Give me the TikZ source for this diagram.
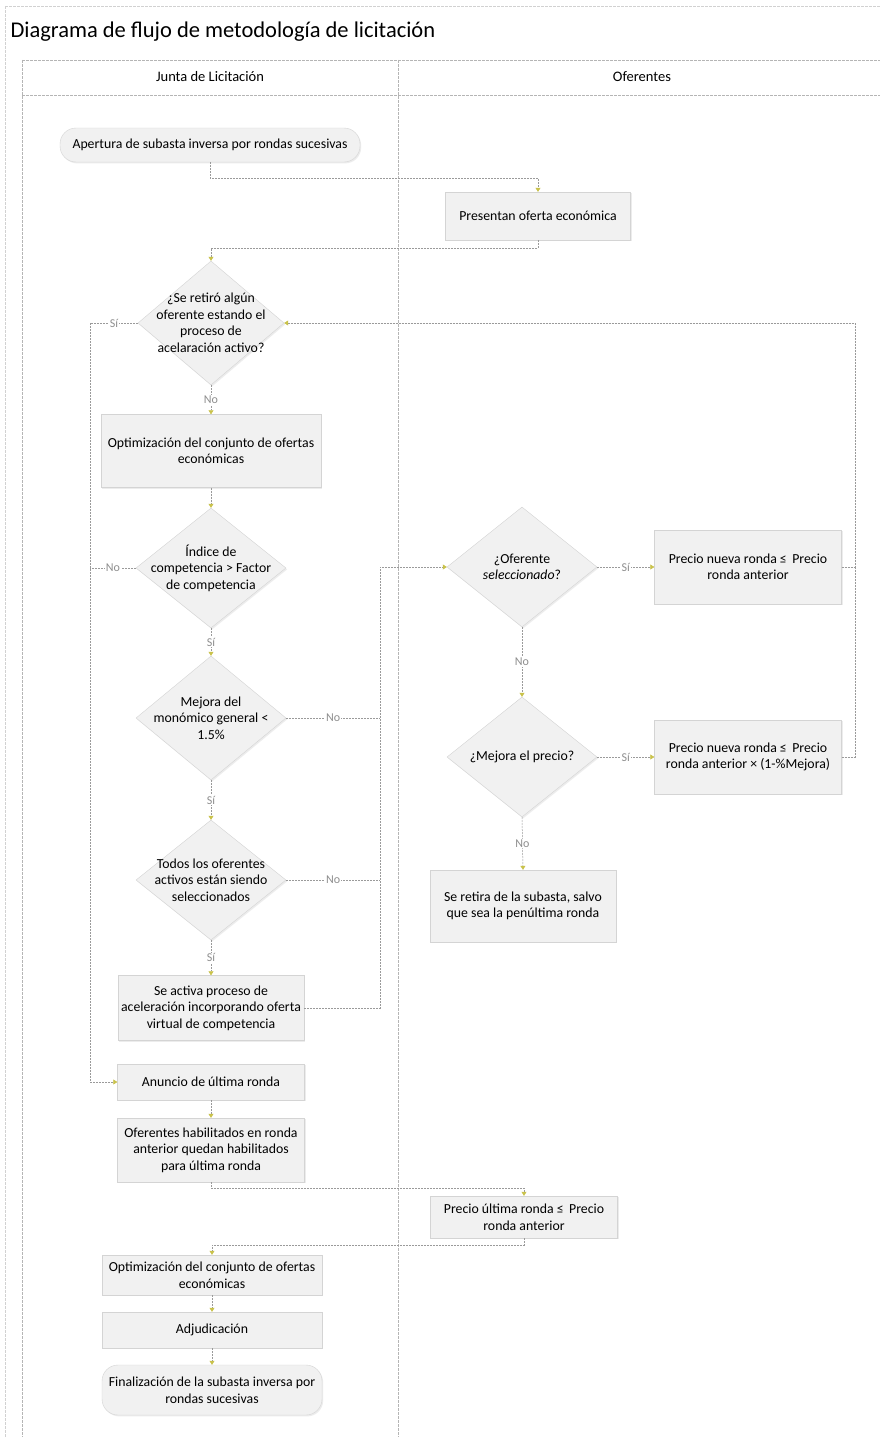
\documentclass[tikz,border=0pt]{standalone}
\usepackage{fontspec}
\setmainfont{Carlito}
\usetikzlibrary{shapes.geometric,arrows.meta,shadows}
\definecolor{nodefill}{HTML}{F1F1F1}
\definecolor{nodeline}{HTML}{D4D4D4}
\definecolor{connc}{HTML}{9A9A9A}
\definecolor{tipc}{HTML}{C9C24A}
\definecolor{labc}{HTML}{8E8E8E}
\definecolor{lanec}{HTML}{B5B5B5}
\begin{document}
\begin{tikzpicture}[x=1pt,y=-1pt,font=\fontsize{13.8}{16.5}\selectfont,
  shad/.style={drop shadow={shadow xshift=1.2pt,shadow yshift=-1.4pt,fill=black!14}},
  box/.style={rectangle,fill=nodefill,draw=nodeline,line width=0.4pt,align=center,inner sep=1pt,shad},
  term/.style={box,rounded corners=16pt},
  dia/.style={diamond,fill=nodefill,draw=nodeline,line width=0.4pt,inner sep=0pt,shad},
  conn/.style={draw=connc,line width=0.5pt,dash pattern=on 2pt off 1pt},
  arr/.style={conn,-{Triangle[width=5pt,length=4pt,color=tipc]}},
  elab/.style={fill=white,text=labc,inner sep=1pt,font=\fontsize{12}{14}\selectfont},
  lane/.style={draw=lanec,line width=0.5pt,dash pattern=on 3pt off 1pt}]
\useasboundingbox (0,0) rectangle (880,1437);
\fill[white] (0,0) rectangle (880,1437);
% frame and lanes
\draw[lane,draw=black!18] (5,6) -- (880,6);
\draw[lane,draw=black!18] (5,6) -- (5,1437);
\draw[lane] (22,60) -- (880,60);
\draw[lane] (22,95) -- (880,95);
\draw[lane] (22,60) -- (22,1437);
\draw[lane] (398,60) -- (398,1437);
\node[anchor=west,font=\fontsize{22.5}{26}\selectfont] (title) at (7,32) {Diagrama de flujo de metodología de licitación};
\node[font=\fontsize{14.5}{17}\selectfont] (h1) at (210,77) {Junta de Licitación};
\node[font=\fontsize{14.5}{17}\selectfont] (h2) at (642,77) {Oferentes};
% nodes
\node[term,minimum width=300,minimum height=34] (start) at (210,145) {Apertura de subasta inversa por rondas sucesivas};
\node[box,minimum width=185,minimum height=48] (pres) at (538,216) {Presentan oferta económica};
\node[dia,minimum width=146,minimum height=124,label={[align=center]center:¿Se retiró algún\\oferente estando el\\proceso de\\acelaración activo?}] (d1) at (211,323) {};
\node[box,minimum width=220,minimum height=73] (opt1) at (211,451) {Optimización del conjunto de ofertas\\económicas};
\node[dia,minimum width=150,minimum height=120,label={[align=center]center:Índice de\\competencia > Factor\\de competencia}] (d2) at (211,568) {};
\node[dia,minimum width=150,minimum height=124,label={[align=center]center:Mejora del\\monómico general <\\1.5\%}] (d3) at (211,718) {};
\node[dia,minimum width=150,minimum height=120,label={[align=center]center:Todos los oferentes\\activos están siendo\\seleccionados}] (d4) at (211,880) {};
\node[box,minimum width=186,minimum height=65] (act) at (211,1008) {Se activa proceso de\\aceleración incorporando oferta\\virtual de competencia};
\node[box,minimum width=187,minimum height=36] (anun) at (211,1082) {Anuncio de última ronda};
\node[box,minimum width=187,minimum height=64] (hab) at (211,1150) {Oferentes habilitados en ronda\\anterior quedan habilitados\\para última ronda};
\node[box,minimum width=187,minimum height=42] (ult) at (524,1217) {Precio última ronda ≤\, Precio\\ronda anterior};
\node[box,minimum width=220,minimum height=40] (opt2) at (212,1275) {Optimización del conjunto de ofertas\\económicas};
\node[box,minimum width=220,minimum height=36] (adj) at (212,1330) {Adjudicación};
\node[term,minimum width=220,minimum height=50] (fin) at (212,1390) {Finalización de la subasta inversa por\\rondas sucesivas};
\node[dia,minimum width=150,minimum height=120,label={[align=center]center:¿Oferente\\\textit{seleccionado}?}] (d5) at (522,567) {};
\node[box,minimum width=187,minimum height=74] (b1) at (748,567) {Precio nueva ronda ≤\, Precio\\ronda anterior};
\node[dia,minimum width=150,minimum height=120,label={[align=center]center:¿Mejora el precio?}] (d6) at (522,757) {};
\node[box,minimum width=187,minimum height=74] (b2) at (748,757) {Precio nueva ronda ≤\, Precio\\ronda anterior × (1-\%Mejora)};
\node[box,minimum width=186,minimum height=72] (ret) at (523,906) {Se retira de la subasta, salvo\\que sea la penúltima ronda};
% routing coordinates
\coordinate (lx) at (90,0);
\coordinate (mx) at (380,0);
\coordinate (rx) at (855,0);
% connectors
\draw[arr] (start.south) -- ++(0,16) -| (pres.north);
\draw[arr] (pres.south) -- ++(0,8) -| (d1.north);
\draw[arr] (d1.south) -- node[elab,midway]{No} (opt1.north);
\draw[arr] (opt1.south) -- (d2.north);
\draw[arr] (d2.south) -- node[elab,midway]{Sí} (d3.north);
\draw[arr] (d3.south) -- node[elab,midway]{Sí} (d4.north);
\draw[arr] (d4.south) -- node[elab,midway]{Sí} (act.north);
\draw[arr] (d1.west) -- node[elab,midway]{Sí} (d1.west -| lx) |- (anun.west);
\draw[conn] (d2.west) -- node[elab,midway]{No} (d2.west -| lx);
\draw[conn] (d3.east) -- node[elab,midway]{No} (d3.east -| mx);
\draw[conn] (d4.east) -- node[elab,midway]{No} (d4.east -| mx);
\draw[arr] (act.east) -- (act.east -| mx) |- (d5.west);
\draw[arr] (d5.east) -- node[elab,midway]{Sí} (b1.west);
\draw[arr] (d5.south) -- node[elab,midway]{No} (d6.north);
\draw[arr] (d6.east) -- node[elab,midway]{Sí} (b2.west);
\draw[arr] (d6.south) -- node[elab,midway]{No} (ret.north);
\draw[arr] (b1.east) -- (b1.east -| rx) |- (d1.east);
\draw[conn] (b2.east) -- (b2.east -| rx) -- (b1.east -| rx);
\draw[arr] (anun.south) -- (hab.north);
\draw[arr] (hab.south) -- ++(0,6) -| (ult.north);
\draw[arr] (ult.south) -- ++(0,7) -| (opt2.north);
\draw[arr] (opt2.south) -- (adj.north);
\draw[arr] (adj.south) -- (fin.north);
\end{tikzpicture}
\end{document}
